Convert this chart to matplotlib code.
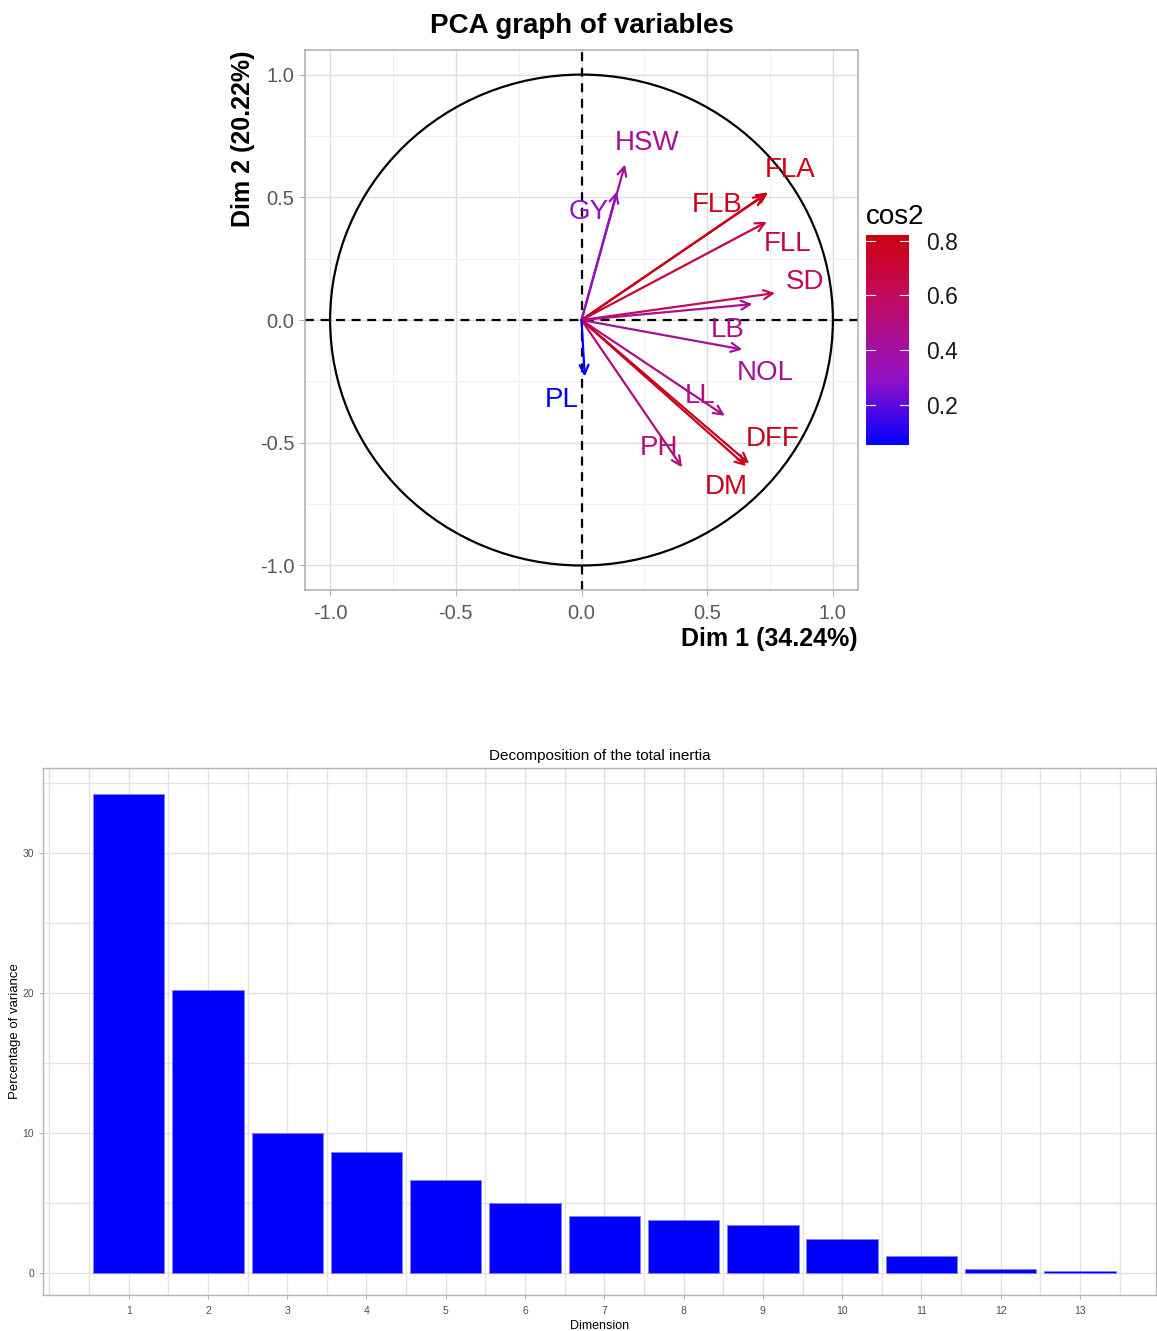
import numpy as np
import matplotlib
matplotlib.use("Agg")
import matplotlib.pyplot as plt
from matplotlib.colors import LinearSegmentedColormap, Normalize
from matplotlib.patches import Circle

plt.rcParams["font.family"] = ["Liberation Sans", "DejaVu Sans"]
plt.rcParams["axes.unicode_minus"] = False

# ── PCA variable coordinates (Dim 1, Dim 2) ─────────────────
var_names = ["HSW", "GY", "FLA", "FLB", "FLL", "SD", "LB", "NOL", "LL", "DFF", "DM", "PH", "PL"]
dim1 = [0.173, 0.141, 0.742, 0.730, 0.737, 0.770, 0.680, 0.640, 0.570, 0.667, 0.655, 0.400, 0.013]
dim2 = [0.634, 0.524, 0.520, 0.510, 0.400, 0.110, 0.065, -0.120, -0.390, -0.585, -0.595, -0.600, -0.230]
# repelled label positions
lab_x = [0.26, 0.03, 0.83, 0.54, 0.82, 0.89, 0.58, 0.73, 0.47, 0.76, 0.575, 0.31, -0.08]
lab_y = [0.72, 0.44, 0.61, 0.47, 0.31, 0.155, -0.04, -0.215, -0.31, -0.485, -0.68, -0.52, -0.325]

# ── Scree data ───────────────────────────────────────────────
dims = list(range(1, 14))
pct_var = [34.24, 20.22, 10.02, 8.66, 6.64, 5.00, 4.07, 3.79, 3.43, 2.43, 1.19, 0.27, 0.17]

cmap = LinearSegmentedColormap.from_list(
    "cos2", [(0.0, "#0000FF"), (0.3, "#9010C8"), (0.48, "#A5109A"),
             (0.72, "#C20A5A"), (1.0, "#CC0010")])
cos2 = np.array(dim1) ** 2 + np.array(dim2) ** 2
norm = Normalize(vmin=cos2.min(), vmax=cos2.max())

fig = plt.figure(figsize=(11.57, 13.31), dpi=100)

# ── Top: PCA graph of variables ──────────────────────────────
ax = fig.add_axes([0.2636, 0.5567, 0.478, 0.4057])
ax.set_xlim(-1.1, 1.1)
ax.set_ylim(-1.1, 1.1)
ax.set_xticks([-1.0, -0.5, 0.0, 0.5, 1.0])
ax.set_yticks([-1.0, -0.5, 0.0, 0.5, 1.0])
ax.set_xticks(np.arange(-1.0, 1.01, 0.25), minor=True)
ax.set_yticks(np.arange(-1.0, 1.01, 0.25), minor=True)
ax.grid(True, which="major", color="#DEDEDE", lw=1.0)
ax.grid(True, which="minor", color="#EFEFEF", lw=0.7)
ax.set_axisbelow(True)
for s in ax.spines.values():
    s.set_color("#B3B3B3")
    s.set_linewidth(1.2)
ax.tick_params(which="both", length=4, color="#B3B3B3", labelsize=14.5, labelcolor="#595959")
ax.tick_params(axis="x", pad=6)
ax.tick_params(which="minor", length=0)

ax.add_patch(Circle((0, 0), 1.0, fill=False, color="black", lw=1.6, zorder=2))
ax.axhline(0, color="black", ls=(0, (4, 3)), lw=1.6, zorder=2)
ax.axvline(0, color="black", ls=(0, (4, 3)), lw=1.6, zorder=2)

for name, x, y, lx, ly, c in zip(var_names, dim1, dim2, lab_x, lab_y, cos2):
    col = cmap(norm(c))
    ax.annotate("", xy=(x, y), xytext=(0, 0),
                arrowprops=dict(arrowstyle="->,head_length=0.65,head_width=0.32",
                                color=col, lw=1.6, shrinkA=0, shrinkB=0),
                zorder=3)
    ax.text(lx, ly, name, color=col, fontsize=20, ha="center", va="center", zorder=4)

ax.set_title("PCA graph of variables", fontsize=20, fontweight="bold", pad=12)
ax.set_xlabel("Dim 1 (34.24%)", fontsize=18, fontweight="bold", loc="right", labelpad=3)
ax.set_ylabel("Dim 2 (20.22%)", fontsize=18, fontweight="bold", loc="top", labelpad=4)

cax = fig.add_axes([0.7485, 0.6657, 0.0372, 0.1578])
sm = plt.cm.ScalarMappable(norm=norm, cmap=cmap)
cb = fig.colorbar(sm, cax=cax, ticks=[0.2, 0.4, 0.6, 0.8])
cb.outline.set_visible(False)
cb.ax.tick_params(length=0, labelsize=16.5, labelcolor="#1A1A1A", pad=12)
for t in [0.2, 0.4, 0.6, 0.8]:
    cax.plot([0, 0.2], [t, t], color="white", lw=0.8, transform=cax.get_yaxis_transform())
    cax.plot([0.8, 1.0], [t, t], color="white", lw=0.8, transform=cax.get_yaxis_transform())
cax.set_title("cos2", fontsize=20, loc="left", pad=8)

# ── Bottom: Decomposition of the total inertia ───────────────
bx = fig.add_axes([0.0372, 0.027, 0.9620, 0.396])
bx.bar(dims, pct_var, width=0.9, color="#0000FF", edgecolor="#8080FF", lw=0.6, zorder=3)
bx.set_xlim(-0.08, 13.96)
bx.set_ylim(-1.57, 36.07)
bx.set_xticks(dims)
bx.set_xticks(np.arange(0, 14, 0.5), minor=True)
bx.set_yticks([0, 10, 20, 30])
bx.set_yticks(np.arange(0, 36, 5), minor=True)
bx.grid(True, which="both", color="#E3E3E3", lw=1.0)
bx.set_axisbelow(True)
for s in bx.spines.values():
    s.set_color("#B3B3B3")
    s.set_linewidth(1.0)
bx.tick_params(which="both", length=3, color="#B3B3B3", labelsize=7.5, labelcolor="#4D4D4D")
bx.tick_params(axis="x", pad=5)
bx.tick_params(which="minor", length=0)
bx.set_title("Decomposition of the total inertia", fontsize=11, pad=6)
bx.set_xlabel("Dimension", fontsize=9, labelpad=3)
bx.set_ylabel("Percentage of variance", fontsize=9.5, labelpad=1)

fig.savefig("out.png", dpi=100)
